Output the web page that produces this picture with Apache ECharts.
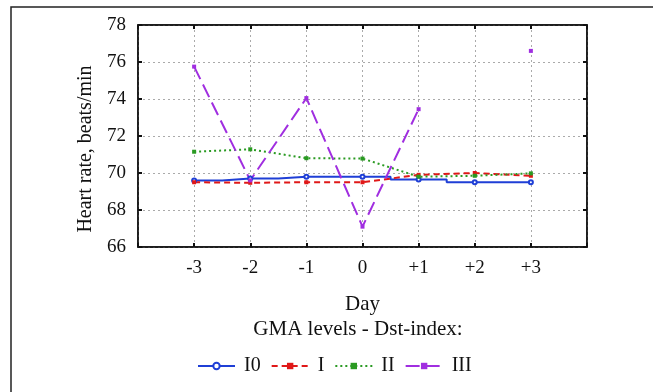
<!DOCTYPE html>
<html><head><meta charset="utf-8">
<script src="https://cdn.jsdelivr.net/npm/echarts@6/dist/echarts.min.js"></script>
<style>html,body{margin:0;padding:0;background:#fff}#c{width:653px;height:392px}</style>
</head><body><div id="c"></div>
<script>
const days = [-3, -2, -1, 0, 1, 2, 3];
const dayLabels = ['-3', '-2', '-1', '0', '+1', '+2', '+3'];
const yTicks = [66, 68, 70, 72, 74, 76, 78];
const seriesNames = ['I0', 'I', 'II', 'III'];
const hrI0 = [69.6, 69.7, 69.8, 69.8, 69.65, 69.5, 69.5];
const hrI = [69.5, 69.47, 69.5, 69.5, 69.9, 70.0, 69.85];
const hrII = [71.15, 71.28, 70.8, 70.78, 69.8, 69.85, 69.98];
const hrIII = [75.75, 69.6, 74.05, 67.1, 73.45, null, 76.6];

const pairs = vals => days.map((d, i) => [d, vals[i]]);
const font = 'Liberation Serif';
const frameAxis = {
  axisLine: { show: true, onZero: false, lineStyle: { color: '#111', width: 1.5 } },
  axisTick: { inside: true, length: 4, lineStyle: { color: '#111', width: 2 } },
  axisLabel: { show: false }, splitLine: { show: false }
};
const chart = echarts.init(document.getElementById('c'));
chart.setOption({
  animation: false,
  backgroundColor: '#fff',
  graphic: [{ type: 'rect', shape: { x: 11, y: 7, width: 700, height: 420 }, style: { fill: 'none', stroke: '#222', lineWidth: 1.5 }, z: 100 }],
  title: { text: 'GMA levels - Dst-index:', top: 319, left: 358, textAlign: 'center', padding: 0,
    textStyle: { fontFamily: font, fontSize: 21, fontWeight: 'normal', color: '#111' } },
  legend: {
    data: seriesNames, top: 356, left: 197, itemWidth: 37, itemHeight: 8, itemGap: 10, padding: 0,
    textStyle: { fontFamily: font, fontSize: 20, color: '#111', padding: [0, 0, 0, 4] }
  },
  grid: { left: 138, top: 25, right: 66, bottom: 145, show: true, borderColor: '#111', borderWidth: 1.5 },
  xAxis: [{
    type: 'value', min: -4, max: 4, interval: 1,
    name: 'Day', nameLocation: 'middle', nameGap: 47,
    nameTextStyle: { fontFamily: font, fontSize: 21, color: '#111' },
    axisLine: { show: true, onZero: false, lineStyle: { color: '#111', width: 1.5 } },
    axisTick: { inside: true, length: 4, lineStyle: { color: '#111', width: 2 } },
    axisLabel: { margin: 12, fontFamily: font, fontSize: 19, color: '#111',
      formatter: v => { const i = days.indexOf(v); return i >= 0 ? dayLabels[i] : ''; } },
    splitLine: { show: true, lineStyle: { color: '#aaa', type: [2, 3] } }
  }, Object.assign({ type: 'value', min: -4, max: 4, interval: 1, position: 'top' }, frameAxis)],
  yAxis: [{
    type: 'value', min: yTicks[0], max: yTicks[yTicks.length - 1], interval: 2,
    name: 'Heart rate, beats/min', nameLocation: 'middle', nameGap: 42,
    nameTextStyle: { fontFamily: font, fontSize: 20, color: '#111', padding: [0, 26, 0, 0] },
    axisLine: { show: true, onZero: false, lineStyle: { color: '#111', width: 1.5 } },
    axisTick: { inside: true, length: 4, lineStyle: { color: '#111', width: 2 } },
    axisLabel: { margin: 12, fontFamily: font, fontSize: 19, color: '#111' },
    splitLine: { show: true, lineStyle: { color: '#aaa', type: [2, 3] } }
  }, Object.assign({ type: 'value', min: yTicks[0], max: yTicks[yTicks.length - 1], interval: 2, position: 'right' }, frameAxis)],
  series: [
    { name: 'I0', type: 'line', step: 'middle', data: pairs(hrI0), color: '#1f3fd6', symbol: 'emptyCircle', symbolSize: 4, lineStyle: { width: 2, color: '#1f3fd6' } },
    { name: 'I', type: 'line', data: pairs(hrI), color: '#e01818', symbol: 'rect', symbolSize: 4, lineStyle: { width: 2, type: [6, 4], color: '#e01818' } },
    { name: 'II', type: 'line', data: pairs(hrII), color: '#2a9a22', symbol: 'rect', symbolSize: 4, lineStyle: { width: 2, type: [2, 3], color: '#2a9a22' } },
    { name: 'III', type: 'line', data: pairs(hrIII), color: '#a02ee0', symbol: 'rect', symbolSize: 4, connectNulls: false, lineStyle: { width: 2, type: [14, 6], color: '#a02ee0' } }
  ]
});
</script></body></html>
